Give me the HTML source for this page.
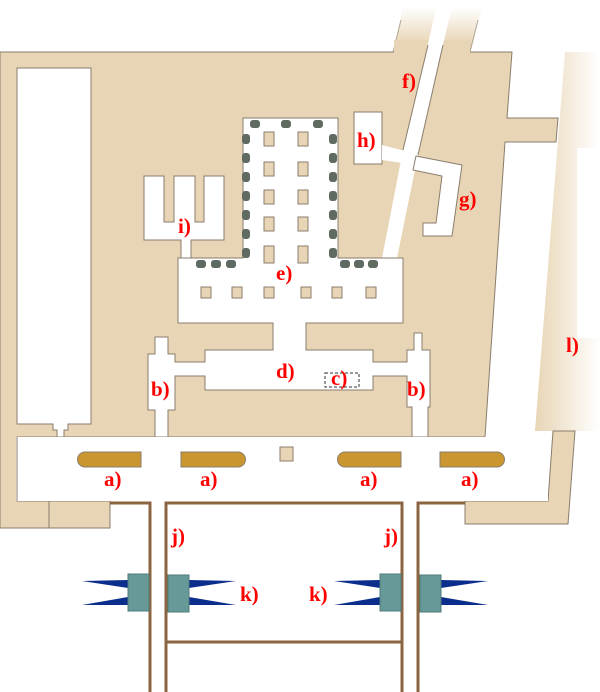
<!DOCTYPE html>
<html><head><style>html,body{margin:0;padding:0;background:#fff}svg{display:block}
text{font-family:"Liberation Serif",serif;font-weight:bold;font-size:21px;fill:#f00}</style></head>
<body>
<svg width="600" height="692" viewBox="0 0 600 692" xmlns="http://www.w3.org/2000/svg">
<defs>
<linearGradient id="tf" x1="0" y1="0" x2="0" y2="1"><stop offset="0" stop-color="#e8d5b5" stop-opacity="0"/><stop offset="0.8" stop-color="#e8d5b5"/></linearGradient>
<linearGradient id="lf" x1="0" y1="0" x2="1" y2="0"><stop offset="0" stop-color="#e8d5b5"/><stop offset="1" stop-color="#e8d5b5" stop-opacity="0"/></linearGradient>
</defs>
<g stroke="#8a7d6d" stroke-width="1">
<!-- top fade pieces -->
<polygon points="393,53 403,7 437,7 426,53" fill="url(#tf)" stroke="none"/>
<polygon points="452,7 482,7 470,53 441,53" fill="url(#tf)" stroke="none"/>
<line x1="393" y1="52" x2="401" y2="20" stroke-opacity="0.6"/>
<line x1="470" y1="52" x2="478" y2="20" stroke-opacity="0.6"/>
<!-- l strip -->
<polygon points="565,52 600,52 600,431 535,431" fill="url(#lf)" stroke="none"/>
<rect x="577" y="148" width="23" height="190" fill="#fff" stroke="none"/>
<!-- main beige -->
<polygon points="0,52 393,52 470,52 512,52 507,118 558,118 556,142 505,142 485,437 17,437 17,501 110,501 110,528 0,528" fill="#e8d5b5"/>
<rect x="394" y="40" width="76" height="14" fill="#e8d5b5" stroke="none"/>
<line x1="49" y1="501" x2="49" y2="528"/>
<polygon points="465,501 548,501 553,431 575,431 568,524 465,524" fill="#e8d5b5"/>
<!-- white cutouts -->
<g fill="#fff">
<polygon points="17,68 91,68 91,424 68,424 68,430 64,430 64,437 57,437 57,430 53,430 53,424 17,424"/>
<polygon points="437,5 452,5 418,155 397,258 382,258 403,150" stroke="none"/>
<line x1="428" y1="45" x2="403" y2="150"/><line x1="443" y1="45" x2="418" y2="155"/>
<rect x="354" y="112" width="28" height="52"/>
<polygon points="382,145 405,151 402,163 382,160" stroke="none"/>
<polygon points="416,156 462,165 452,236 423,236 423,223 436,223 442,176 413,170"/>
<polygon points="144,176 164,176 164,222 174,222 174,176 195,176 195,222 204,222 204,176 224,176 224,240 191,240 191,258 181,258 181,240 144,240"/>
<polygon points="243,118 338,118 338,258 403,258 403,323 306,323 306,350 373,350 373,362 407,362 407,350 414,350 414,333 422,333 422,350 430,350 430,407 428,407 428,437 412,437 412,407 407,407 407,376 373,376 373,390 205,390 205,376 175,376 175,410 168,410 168,437 155,437 155,410 148,410 148,354 155,354 155,337 168,337 168,354 175,354 175,362 205,362 205,350 273,350 273,323 178,323 178,258 243,258"/>
<rect x="16" y="437" width="532" height="64" stroke="none"/>
</g>
<line x1="17" y1="437" x2="17" y2="501"/>
<!-- pillars -->
<g fill="#e8d5b5">
<rect x="264" y="132" width="10" height="14"/><rect x="298" y="132" width="10" height="14"/>
<rect x="264" y="162" width="10" height="14"/><rect x="298" y="162" width="10" height="14"/>
<rect x="264" y="190" width="10" height="14"/><rect x="298" y="190" width="10" height="14"/>
<rect x="264" y="217" width="10" height="14"/><rect x="298" y="217" width="10" height="14"/>
<rect x="264" y="246" width="10" height="17"/><rect x="298" y="246" width="10" height="17"/>
<rect x="201" y="287" width="10" height="11"/><rect x="232" y="287" width="10" height="11"/>
<rect x="264" y="287" width="10" height="11"/><rect x="301" y="287" width="10" height="11"/>
<rect x="332" y="287" width="10" height="11"/><rect x="366" y="287" width="10" height="11"/>
<rect x="280" y="447" width="13" height="14"/>
</g>
<rect x="325" y="373" width="34" height="14" fill="none" stroke="#333" stroke-dasharray="3,2"/>
<!-- a bars -->
<g fill="#c9962f">
<path d="M85,452H141V467H85A7.5,7.5 0 0 1 85,452Z"/>
<path d="M181,452H238A7.5,7.5 0 0 1 238,467H181Z"/>
<path d="M345,452H401V467H345A7.5,7.5 0 0 1 345,452Z"/>
<path d="M440,452H497A7.5,7.5 0 0 1 497,467H440Z"/>
</g>
</g>
<!-- statues -->
<g fill="#5f6b61">
<rect x="250" y="120" width="10" height="8" rx="3"/><rect x="281" y="120" width="10" height="8" rx="3"/><rect x="313" y="120" width="10" height="8" rx="3"/>
<rect x="242" y="134" width="8" height="10" rx="3"/><rect x="242" y="153" width="8" height="10" rx="3"/><rect x="242" y="172" width="8" height="10" rx="3"/><rect x="242" y="191" width="8" height="10" rx="3"/><rect x="242" y="210" width="8" height="10" rx="3"/><rect x="242" y="229" width="8" height="10" rx="3"/><rect x="242" y="248" width="8" height="10" rx="3"/>
<rect x="329" y="134" width="8" height="10" rx="3"/><rect x="329" y="153" width="8" height="10" rx="3"/><rect x="329" y="172" width="8" height="10" rx="3"/><rect x="329" y="191" width="8" height="10" rx="3"/><rect x="329" y="210" width="8" height="10" rx="3"/><rect x="329" y="229" width="8" height="10" rx="3"/><rect x="329" y="248" width="8" height="10" rx="3"/>
<rect x="196" y="260" width="10" height="8" rx="3"/><rect x="211" y="260" width="10" height="8" rx="3"/><rect x="226" y="260" width="10" height="8" rx="3"/>
<rect x="340" y="260" width="10" height="8" rx="3"/><rect x="354" y="260" width="10" height="8" rx="3"/><rect x="368" y="260" width="10" height="8" rx="3"/>
</g>
<!-- j lines -->
<g stroke="#8b6440" stroke-width="3" fill="none">
<polyline points="110,503 150,503 150,692"/>
<polyline points="166,692 166,503 402,503 402,692"/>
<polyline points="418,692 418,503 465,503"/>
<line x1="166" y1="642" x2="402" y2="642"/>
</g>
<!-- k -->
<g fill="#0b2d8c">
<polygon points="82,581 128,580 128,588"/><polygon points="82,605 128,597 128,605"/>
<polygon points="189,580 236,581 189,588"/><polygon points="189,597 236,605 189,605"/>
<polygon points="334,581 380,580 380,588"/><polygon points="334,605 380,597 380,605"/>
<polygon points="441,580 488,581 441,588"/><polygon points="441,597 488,605 441,605"/>
</g>
<g fill="#679999" stroke="#4f7a7a">
<rect x="128" y="574" width="21" height="37"/><rect x="168" y="575" width="21" height="37"/>
<rect x="380" y="574" width="21" height="37"/><rect x="420" y="575" width="21" height="37"/>
</g>
<!-- labels -->
<text x="104" y="486">a)</text><text x="200" y="486">a)</text><text x="360" y="486">a)</text><text x="461" y="486">a)</text>
<text x="151" y="396">b)</text><text x="407" y="396">b)</text>
<text x="331" y="385">c)</text><text x="276" y="378">d)</text><text x="276" y="280">e)</text>
<text x="402" y="88">f)</text><text x="459" y="206">g)</text><text x="357" y="147">h)</text><text x="178" y="233">i)</text>
<text x="171" y="543">j)</text><text x="384" y="543">j)</text>
<text x="240" y="601">k)</text><text x="309" y="601">k)</text><text x="566" y="352">l)</text>
</svg>
</body></html>
